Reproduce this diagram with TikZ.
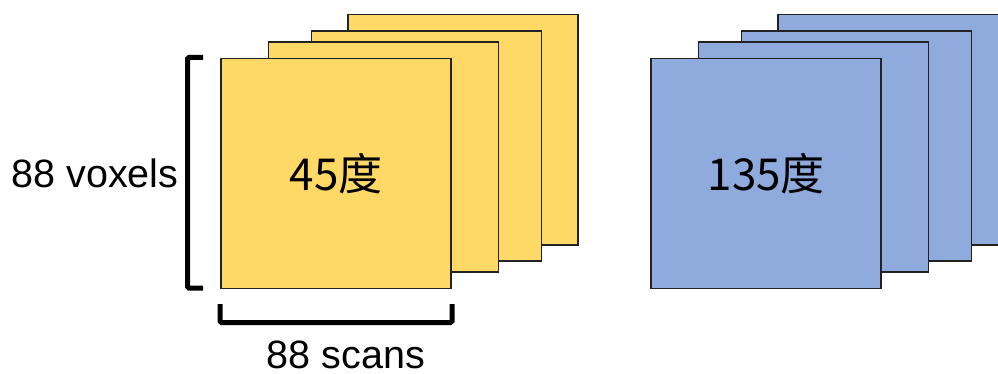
\documentclass[tikz,border=0pt]{standalone}
\usepackage{fontspec}
\setmainfont{Liberation Sans}
\newfontfamily\cjk{Noto Sans CJK SC}
\definecolor{sheetyellow}{HTML}{FFD966}
\definecolor{sheetblue}{HTML}{8FAADC}
\definecolor{sheetedge}{HTML}{222222}
\begin{document}
\begin{tikzpicture}[x=1pt,y=-1pt,
  sheet/.style={draw=sheetedge, line width=1.6pt, minimum width=230pt, minimum height=230pt, inner sep=0pt, outer sep=0pt},
  ysheet/.style={sheet, fill=sheetyellow},
  bsheet/.style={sheet, fill=sheetblue},
  bracketline/.style={line width=5pt, rounded corners=1.5pt},
  lbl/.style={font=\fontsize{39.5pt}{44pt}\selectfont, inner sep=0pt, anchor=base},
  cjklbl/.style={font=\cjk\fontsize{44pt}{50pt}\selectfont, inner sep=0pt}
]
\useasboundingbox (0,0) rectangle (998,374);
\clip (0,0) rectangle (998,374);
% yellow stack
\node[ysheet] (y4) at (463,129.7) {};
\node[ysheet] (y3) at (426.5,146.2) {};
\node[ysheet] (y2) at (383.3,157) {};
\node[ysheet] (y1) at (336.2,173.5) {};
\node[cjklbl] (t45) at (y1.center) {45度};
% blue stack
\node[bsheet] (b4) at (893,129.7) {};
\node[bsheet] (b3) at (856.5,146.2) {};
\node[bsheet] (b2) at (813.3,157) {};
\node[bsheet] (b1) at (766.2,173.5) {};
\node[cjklbl] (t135) at (b1.center) {135度};
% brackets
\coordinate (lbt) at (203,57.5);
\coordinate (lbb) at (203,288);
\draw[bracketline] (lbt) -- (187.5,57.5) -- (187.5,288) -- (lbb);
\coordinate (bbl) at (220,304);
\coordinate (bbr) at (452,304);
\draw[bracketline] (bbl) -- (220,322.5) -- (452,322.5) -- (bbr);
% labels
\node[lbl] (vox) at (95,188) {88 voxels};
\node[lbl] (scan) at (346,368.5) {88 scans};
\end{tikzpicture}
\end{document}
